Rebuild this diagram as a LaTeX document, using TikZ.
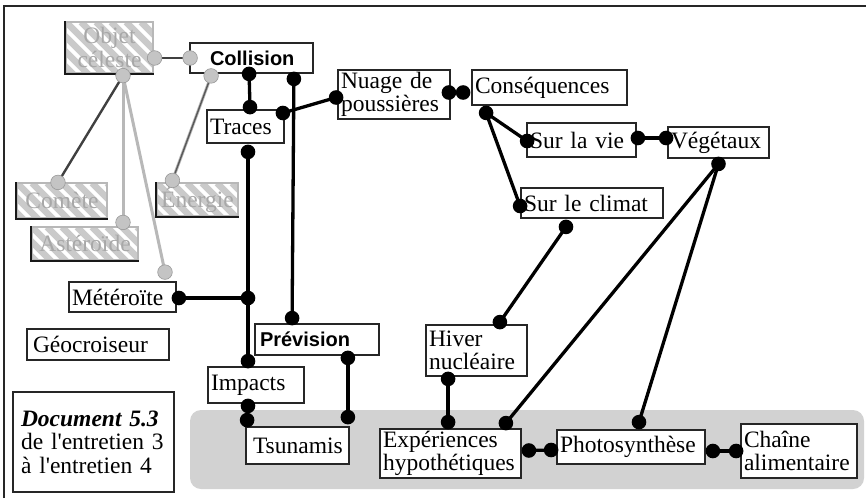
\documentclass[tikz,border=0pt]{standalone}
\usepackage{fontspec}
\setmainfont{Liberation Serif}
\newfontfamily\sansfam{Liberation Sans}
\usetikzlibrary{calc}
\definecolor{bggray}{HTML}{D2D2D2}
\definecolor{hatchgray}{HTML}{CACACA}
\definecolor{ghosttext}{HTML}{A8A8A8}
\definecolor{ghostdot}{HTML}{C4C4C4}
\definecolor{ghostline}{HTML}{B8B8B8}
\begin{document}
\begin{tikzpicture}[x=1pt,y=-1pt,
  every node/.style={font=\fontsize{23.5}{23.5}\selectfont},
  box/.style={draw=black!85, line width=1.8pt, fill=white, inner xsep=3pt, inner ysep=0pt, align=left},
  boldbox/.style={box, font=\fontsize{20}{22}\selectfont\sansfam\bfseries},
  hatch/.style={draw=ghostline, line width=1.2pt, fill=white, text=ghosttext, inner xsep=4pt, inner ysep=0pt, align=center,
    path picture={\foreach \k in {-8,...,10}{\draw[hatchgray, line width=6.5pt] ([shift={(\k*15,0)}]path picture bounding box.north west) -- ++(90,90);}}},
  shade/.style={black!90, line width=2pt},
  link/.style={black, line width=3.3pt},
  ghostlink/.style={ghostline, line width=3pt},
  darklink/.style={black!75, line width=2.4pt},
  bdot/.style={fill=black},
  gdot/.style={fill=ghostdot, draw=gray!80, line width=0.6pt}
]
\useasboundingbox (0,0) rectangle (866,498);
% frame
\draw[line width=1.8pt, black!85] (4,498) -- (4,6) -- (866,6);
% grey band
\fill[bggray, rounded corners=11pt] (190,410) rectangle (864,489);

% ghost (hatched) nodes
\node[hatch, minimum height=51pt, text width=79pt] (objet) at (109.5,47.5) {Objet\\céleste};
\node[hatch, minimum height=35pt, text width=82pt] (comete) at (62,200.5) {Comète};
\node[hatch, minimum height=33pt, text width=73pt] (energie) at (197.5,199.5) {Énergie};
\node[hatch, minimum height=33pt, text width=98pt] (asteroide) at (85,243.5) {Astéroïde};
\foreach \n in {objet,comete,energie,asteroide}{
  \draw[shade] (\n.north west) -- (\n.south west) -- (\n.south east);
}

% nodes
\node[boldbox, minimum height=30pt, text width=117pt] (collision) at (251.5,58) {\hspace*{17pt}Collision};
\node[box, minimum height=33pt, text width=71pt] (traces) at (245.5,126.5) {Traces};
\node[box, minimum height=49pt, text width=106pt] (nuage) at (394,94.5) {Nuage de\\poussières};
\node[box, minimum height=35pt, text width=149pt] (consequences) at (549.5,87.5) {Conséquences};
\node[box, minimum height=34pt, text width=103pt] (surlavie) at (581.5,140) {Sur la vie};
\node[box, minimum height=31pt, text width=95pt] (vegetaux) at (718.5,142.5) {Végétaux};
\node[box, minimum height=30pt, text width=136pt] (climat) at (592,203) {Sur le climat};
\node[box, minimum height=30pt, text width=101pt] (meteroite) at (122.5,297) {Météroïte};
\node[box, minimum height=31pt, text width=136pt] (geocroiseur) at (98,344.5) {\hspace*{3pt}Géocroiseur};
\node[boldbox, minimum height=31pt, text width=118pt] (prevision) at (317,339.5) {\hspace*{2pt}Prévision};
\node[box, minimum height=36pt, text width=90pt] (impacts) at (256,385) {Impacts};
\node[box, minimum height=37pt, text width=97pt] (tsunamis) at (297.5,445.5) {\hspace*{4pt}Tsunamis};
\node[box, line width=2.6pt, minimum height=100pt, inner xsep=8pt, text width=145pt] (doc) at (93.5,442) {{\bfseries\itshape Document 5.3}\\de l\textquotesingle entretien 3\\à l\textquotesingle entretien 4\\[6pt]};
\node[box, minimum height=51pt, text width=95pt] (hiver) at (476.5,350.5) {Hiver\\nucléaire};
\node[box, minimum height=49pt, text width=135pt] (experiences) at (450.5,453.5) {Expériences\\hypothétiques};
\node[box, minimum height=34pt, text width=142pt] (photo) at (631,447) {Photosynthèse};
\node[box, minimum height=54pt, text width=110pt] (chaine) at (799,451) {Chaîne\\alimentaire};

% anchor points for connectors
\coordinate (ob-r) at ([shift={(1,10.5)}]objet.east);
\coordinate (co-l) at ([shift={(1,0)}]collision.west);
\coordinate (ob-b) at ([shift={(13.5,2)}]objet.south);
\coordinate (cm-t) at ([shift={(-4,0)}]comete.north);
\coordinate (as-t) at ([shift={(38,-4)}]asteroide.north);
\coordinate (me-t) at ([shift={(42.5,-9)}]meteroite.north);
\coordinate (co-g) at ([shift={(22,2)}]collision.south west);
\coordinate (en-t) at ([shift={(16,-2)}]energie.north west);
\coordinate (co-a) at ([shift={(60,0)}]collision.south west);
\coordinate (tr-t) at ([shift={(4.5,-2)}]traces.north);
\coordinate (co-b) at ([shift={(-20,5)}]collision.south east);
\coordinate (pr-t) at ([shift={(38,-5)}]prevision.north west);
\coordinate (tr-r) at ([shift={(-2,-13.5)}]traces.east);
\coordinate (nu-l) at ([shift={(-1,3)}]nuage.west);
\coordinate (tr-b) at ([shift={(2.5,8)}]traces.south);
\coordinate (im-t) at ([shift={(-8,-5)}]impacts.north);
\coordinate (mt-r) at ([shift={(2,1)}]meteroite.east);
\coordinate (jn) at (tr-b |- mt-r);
\coordinate (im-b) at ([shift={(-8,2)}]impacts.south);
\coordinate (ts-l) at ([shift={(2,-6)}]tsunamis.north west);
\coordinate (pr-b) at ([shift={(-32,2)}]prevision.south east);
\coordinate (ts-r) at ([shift={(-2,-9)}]tsunamis.north east);
\coordinate (nu-r) at ([shift={(-2,-2)}]nuage.east);
\coordinate (cs-l) at ([shift={(-8,5)}]consequences.west);
\coordinate (cs-b) at ([shift={(15,7)}]consequences.south west);
\coordinate (sv-l) at ([shift={(1,1)}]surlavie.west);
\coordinate (cl-l) at ([shift={(0,3)}]climat.west);
\coordinate (sv-r) at ([shift={(1,-2)}]surlavie.east);
\coordinate (ve-l) at ([shift={(-1,-4.5)}]vegetaux.west);
\coordinate (ve-b) at ([shift={(0,5)}]vegetaux.south);
\coordinate (ex-t) at ([shift={(-16,-5)}]experiences.north east);
\coordinate (ph-t) at ([shift={(8,-7)}]photo.north);
\coordinate (cl-b) at ([shift={(-26,8)}]climat.south);
\coordinate (hi-t) at ([shift={(-28,-2)}]hiver.north east);
\coordinate (hi-b) at ([shift={(23,2)}]hiver.south west);
\coordinate (ex-h) at ([shift={(69,-6)}]experiences.north west);
\coordinate (ex-r) at ([shift={(7,-3)}]experiences.east);
\coordinate (ph-l) at ([shift={(-5,3)}]photo.west);
\coordinate (ph-r) at ([shift={(7,4)}]photo.east);
\coordinate (ch-l) at ([shift={(-4,0)}]chaine.west);

% ghost connectors
\draw[darklink] (ob-r) -- (co-l);
\draw[darklink] (ob-b) -- (cm-t);
\draw[ghostlink] (ob-b) -- (as-t);
\draw[ghostlink] (ob-b) -- (me-t);
\draw[ghostlink] (co-g) -- (en-t);
\draw[black!65, line width=1.4pt] (co-g) -- (en-t);

% black connectors
\draw[link] (co-a) -- (tr-t);
\draw[link] (co-b) -- (pr-t);
\draw[link] (tr-r) -- (nu-l);
\draw[link] (tr-b) -- (im-t);
\draw[link] (mt-r) -- (jn);
\draw[link] (im-b) -- (ts-l);
\draw[link] (pr-b) -- (ts-r);
\draw[link] (nu-r) -- (cs-l);
\draw[link] (cs-b) -- (sv-l);
\draw[link] (cs-b) -- (cl-l);
\draw[link] (sv-r) -- (ve-l);
\draw[link] (ve-b) -- (ex-t);
\draw[link] (ve-b) -- (ph-t);
\draw[link] (cl-b) -- (hi-t);
\draw[link] (hi-b) -- (ex-h);
\draw[link] (ex-r) -- (ph-l);
\draw[link] (ph-r) -- (ch-l);

% dots
\foreach \p in {ob-r,co-l,ob-b,cm-t,as-t,me-t,co-g,en-t}{\path[gdot] (\p) circle (7.3pt);}
\foreach \p in {co-a,tr-t,co-b,pr-t,tr-r,nu-l,tr-b,im-t,mt-r,jn,im-b,ts-l,pr-b,ts-r,nu-r,cs-l,cs-b,sv-l,cl-l,sv-r,ve-l,ve-b,ex-t,ph-t,cl-b,hi-t,hi-b,ex-h,ex-r,ph-l,ph-r,ch-l}{\fill[bdot] (\p) circle (7.3pt);}
\end{tikzpicture}
\end{document}
